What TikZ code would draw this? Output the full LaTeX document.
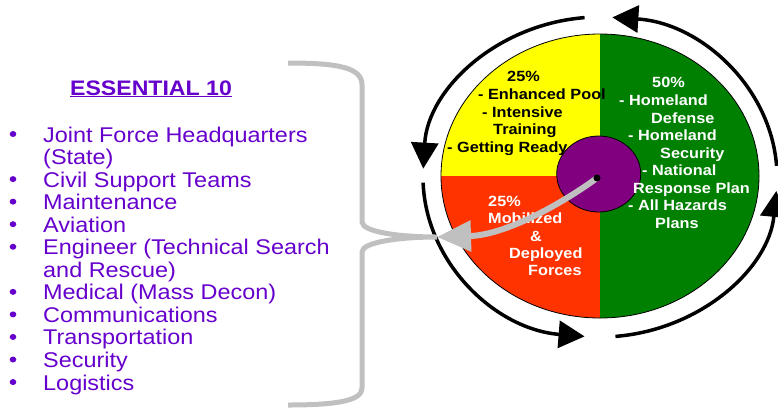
\documentclass[tikz,border=0pt]{standalone}
\usepackage{fontspec}
\setmainfont{Liberation Sans}[FakeStretch=1.1]
\usetikzlibrary{arrows.meta}

\definecolor{listpurple}{RGB}{102,0,204}
\definecolor{pieyellow}{RGB}{255,255,0}
\definecolor{piered}{RGB}{255,51,0}
\definecolor{piegreen}{RGB}{0,128,0}
\definecolor{hubpurple}{RGB}{128,0,128}
\definecolor{bracegray}{RGB}{192,192,192}

\begin{document}
\begin{tikzpicture}[x=1pt, y=-1pt,
    listtext/.style={anchor=base west, inner sep=0pt, text=listpurple,
      font=\fontsize{21.3}{22}\selectfont},
    pietext/.style={anchor=base west, inner sep=0pt,
      font=\bfseries\fontsize{14.8}{17}\selectfont},
    ringarrow/.style={line width=3.5pt, -{Triangle[length=26pt, width=27pt]}}]
  \useasboundingbox (0,0) rectangle (778,408);

  % the list
  \node[listtext, anchor=base, font=\bfseries\fontsize{21}{22}\selectfont] (title) at (151,95) {\underline{ESSENTIAL 10}};
  \foreach \txt [count=\i from 0] in {Joint Force Headquarters, {(State)}, Civil Support Teams,
      Maintenance, Aviation, Engineer (Technical Search, {and Rescue)}, Medical (Mass Decon),
      Communications, Transportation, Security, Logistics}
    \node[listtext] (line\i) at (43,{142+22.55*\i}) {\txt};
  \foreach \i in {0,2,3,4,5,7,8,9,10,11}
    \fill[listpurple] (13,{134+22.55*\i}) ellipse[x radius=3.3, y radius=3];

  % the pie
  \coordinate (pie) at (600,176);
  \fill[pieyellow] (pie) -- +(0,-142) arc[start angle=-90, end angle=-180, x radius=159, y radius=142] -- cycle;
  \fill[piered] (pie) -- +(-159,0) arc[start angle=180, end angle=90, x radius=159, y radius=142] -- cycle;
  \fill[piegreen] (pie) -- +(0,142) arc[start angle=90, end angle=-90, x radius=159, y radius=142] -- cycle;
  \draw[line width=0.8pt] (pie) ellipse[x radius=159, y radius=142];
  \draw[fill=hubpurple, line width=0.8pt] (598.7,174) ellipse[x radius=42, y radius=38];

  % the ring of arrows
  \coordinate (ring) at (600,177);
  \foreach \a/\b in {-4/-86, -95/-177, -182/-265, -275/-355}
    \draw[ringarrow] ([shift={(\a:177 and 160)}]ring) arc[start angle=\a, end angle=\b, x radius=177, y radius=160];

  % texts in the pie
  \foreach \x/\y/\txt [count=\i] in {507/81/25\%, 478/99/- Enhanced Pool, 482/117/- Intensive,
      493/134/Training, 447/152/- Getting Ready}
    \node[pietext] (ready\i) at (\x,\y) {\txt};
  \foreach \x/\y/\txt [count=\i] in {652/87/50\%, 619/105/- Homeland, 651/123/Defense,
      628/140/- Homeland, 660/158/Security, 642/175/- National, 633/193/Response Plan,
      628/210/- All Hazards, 655/228/Plans}
    \node[pietext, text=white] (home\i) at (\x,\y) {\txt};
  \foreach \x/\y/\txt [count=\i] in {488/206/25\%, 488/223/Mobilized, 530/241/\&,
      509/258/Deployed, 528/275/Forces}
    \node[pietext, text=white] (forces\i) at (\x,\y) {\txt};

  % brace and arrow
  \coordinate (hub) at (597,178);
  \coordinate (brace tip) at (437,237);
  \draw[bracegray, line width=5pt] (288,63) .. controls (340,63) and (362,68) .. (362,85)
    -- (362,222) .. controls (362,232) and (400,237) .. (brace tip)
    .. controls (400,237) and (362,242) .. (362,252)
    -- (362,388) .. controls (362,400) and (340,405) .. (288,405);
  \draw[bracegray, line width=6pt, -{Triangle[length=34pt, width=30pt]}]
    (hub) .. controls (560,205) and (505,235) .. (brace tip);
  \fill (hub) circle[radius=3.5];
\end{tikzpicture}
\end{document}
